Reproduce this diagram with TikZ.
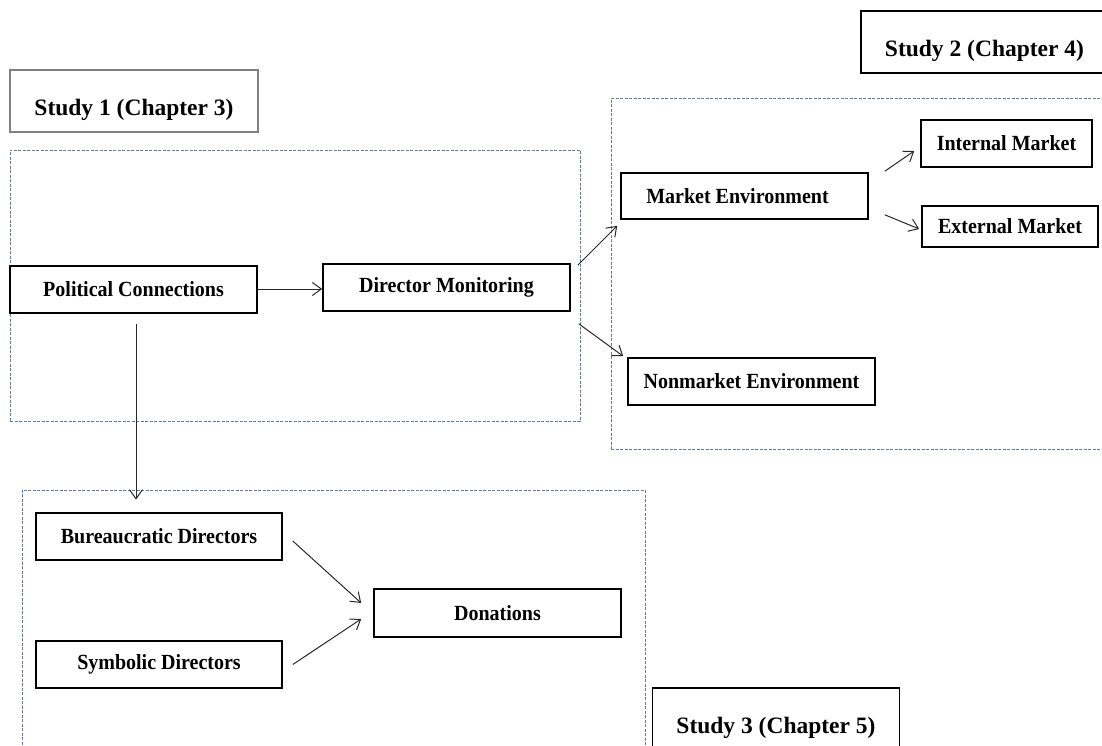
\documentclass[tikz,border=0pt]{standalone}
\usepackage{fontspec}
\setmainfont{Liberation Serif}
\usetikzlibrary{arrows.meta,calc}

\definecolor{frameblue}{RGB}{96,122,165}
\definecolor{studygray}{RGB}{128,128,128}
\definecolor{arrowgray}{RGB}{40,40,40}

% slightly tall lettering for the box labels
\newcommand{\tall}[1]{\scalebox{1}[1.08]{#1}}

\begin{document}
\begin{tikzpicture}[x=1pt,y=-1pt,
  lbl/.style={font=\bfseries\fontsize{20}{24}\selectfont},
  box/.style={lbl,draw=black,line width=1.6pt,inner sep=0pt,
    minimum width=#1,minimum height=47pt},
  studybox/.style={font=\bfseries\fontsize{23.5}{28}\selectfont,
    draw=black,line width=1.4pt,inner sep=0pt,
    minimum width=247pt,minimum height=62pt,text height=32pt,text depth=4pt},
  region/.style={draw=frameblue,line width=0.8pt,dash pattern=on 3pt off 1.5pt,
    inner sep=0pt},
  arr/.style={draw=arrowgray,line width=1pt,
    -{Straight Barb[length=9pt,width=13pt]}}
]
\useasboundingbox (0,0) rectangle (1102,745);
\clip (0,0) rectangle (1102,745);

% dashed regions of the three studies
\node[region,minimum width=570pt,minimum height=271pt] (d1) at (295,285.5) {};
\node[region,minimum width=510pt,minimum height=351pt] (d2) at (866,273.5) {};
\node[region,minimum width=623pt,minimum height=280pt] (d3) at (333.5,630) {};

% study titles
\node[studybox,draw=studygray,minimum width=248pt] (s1) at (134,101) {Study 1 (Chapter 3)};
\node[studybox] (s2) at (984.5,42) {Study 2 (Chapter 4)};
\node[studybox] (s3) at (776,719) {Study 3 (Chapter 5)};

% Study 1
\node[box=247pt] (pc) at (133.5,289.5) {\tall{Political Connections}};
\node[box=247pt] (dm) at (446.5,287.5) {\tall{Director Monitoring}};

% Study 2
\node[box=247pt,minimum height=46pt] (me) at (744.5,196) {\hspace*{-14pt}\tall{Market Environment}};
\node[box=171pt] (im) at (1006.5,143.5) {\tall{Internal Market}};
\node[box=176pt,minimum height=41pt] (em) at (1010,226.5) {\tall{External Market}};
\node[box=247pt] (nm) at (751.5,381.5) {\tall{Nonmarket Environment}};

% Study 3
\node[box=246pt] (bd) at (159,536.5) {\tall{Bureaucratic Directors}};
\node[box=246pt] (sd) at (159,664.5) {\tall{Symbolic Directors}};
\node[box=247pt,minimum height=48pt] (don) at (497.5,613) {\tall{Donations}};

% connectors
\draw[arr] (pc.east |- 0,289) -- (dm.west |- 0,289);
\draw[arr] ($(pc.south)+(2.5,10)$) -- ($(d3.north -| pc.south)+(2.5,10)$);
\draw[arr] ($(dm.north east)+(7,2)$) -- ($(me.south west)+(-3,6)$);
\draw[arr] ($(dm.south east)+(8,12)$) -- ($(nm.north west)+(-4,-1)$);
\draw[arr] ($(me.north east)+(16,-1)$) -- ($(im.west)+(-6,7.5)$);
\draw[arr] ($(me.south east)+(16,-5)$) -- ($(em.west)+(-2,2.5)$);
\draw[arr] ($(bd.east)+(10,4.5)$) -- ($(don.west)+(-12,-10)$);
\draw[arr] ($(sd.east)+(10,0)$) -- ($(don.west)+(-12,6)$);
\end{tikzpicture}
\end{document}
